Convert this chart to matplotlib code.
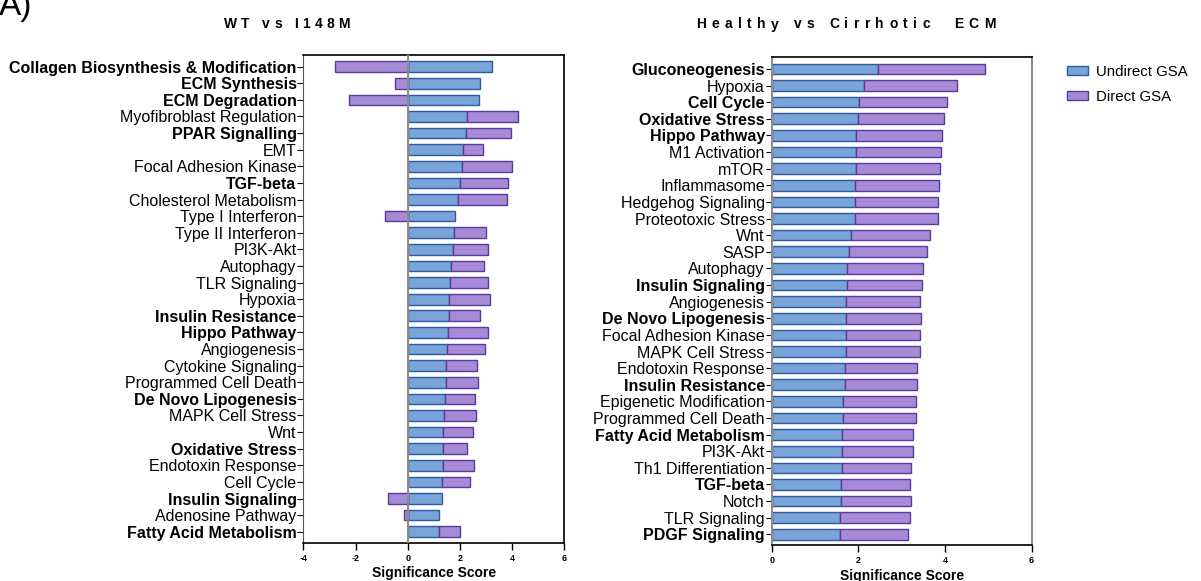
import matplotlib
matplotlib.use("Agg")
import matplotlib.pyplot as plt
from matplotlib.patches import Patch
from matplotlib import font_manager
from matplotlib.ft2font import FT2Font

plt.rcParams['font.family'] = ['Liberation Sans', 'DejaVu Sans']

# WT vs I148M
wt_terms = [
    "Collagen Biosynthesis & Modification", "ECM Synthesis", "ECM Degradation",
    "Myofibroblast Regulation", "PPAR Signalling", "EMT", "Focal Adhesion Kinase",
    "TGF-beta", "Cholesterol Metabolism", "Type I Interferon", "Type II Interferon",
    "PI3K-Akt", "Autophagy", "TLR Signaling", "Hypoxia", "Insulin Resistance",
    "Hippo Pathway", "Angiogenesis", "Cytokine Signaling", "Programmed Cell Death",
    "De Novo Lipogenesis", "MAPK Cell Stress", "Wnt", "Oxidative Stress",
    "Endotoxin Response", "Cell Cycle", "Insulin Signaling", "Adenosine Pathway",
    "Fatty Acid Metabolism",
]
wt_undirect = [3.22, 2.79, 2.75, 2.29, 2.23, 2.14, 2.10, 2.01, 1.93, 1.82, 1.79,
               1.75, 1.66, 1.63, 1.60, 1.60, 1.56, 1.52, 1.48, 1.48, 1.43, 1.41,
               1.36, 1.34, 1.34, 1.31, 1.31, 1.22, 1.19]
wt_direct = [-2.78, -0.47, -2.24, 1.93, 1.72, 0.76, 1.92, 1.85, 1.88, -0.86, 1.23,
             1.35, 1.28, 1.44, 1.55, 1.19, 1.51, 1.44, 1.17, 1.21, 1.14, 1.20,
             1.14, 0.92, 1.19, 1.10, -0.77, -0.13, 0.81]
wt_bold = {"Collagen Biosynthesis & Modification", "ECM Synthesis", "ECM Degradation",
           "PPAR Signalling", "TGF-beta", "Insulin Resistance", "Hippo Pathway",
           "De Novo Lipogenesis", "Oxidative Stress", "Insulin Signaling",
           "Fatty Acid Metabolism"}

# Healthy vs Cirrhotic ECM
ecm_terms = [
    "Gluconeogenesis", "Hypoxia", "Cell Cycle", "Oxidative Stress", "Hippo Pathway",
    "M1 Activation", "mTOR", "Inflammasome", "Hedgehog Signaling", "Proteotoxic Stress",
    "Wnt", "SASP", "Autophagy", "Insulin Signaling", "Angiogenesis",
    "De Novo Lipogenesis", "Focal Adhesion Kinase", "MAPK Cell Stress",
    "Endotoxin Response", "Insulin Resistance", "Epigenetic Modification",
    "Programmed Cell Death", "Fatty Acid Metabolism", "PI3K-Akt", "Th1 Differentiation",
    "TGF-beta", "Notch", "TLR Signaling", "PDGF Signaling",
]
ecm_undirect = [2.46, 2.14, 2.02, 1.98, 1.95, 1.94, 1.94, 1.92, 1.92, 1.92, 1.82,
                1.79, 1.73, 1.73, 1.72, 1.71, 1.71, 1.71, 1.68, 1.68, 1.65, 1.65,
                1.63, 1.63, 1.61, 1.59, 1.59, 1.58, 1.57]
ecm_direct = [2.47, 2.14, 2.02, 1.99, 1.97, 1.96, 1.95, 1.93, 1.92, 1.92, 1.83,
              1.80, 1.75, 1.73, 1.71, 1.73, 1.71, 1.71, 1.67, 1.67, 1.67, 1.67,
              1.64, 1.64, 1.61, 1.61, 1.62, 1.60, 1.58]
ecm_bold = {"Gluconeogenesis", "Cell Cycle", "Oxidative Stress", "Hippo Pathway",
            "Insulin Signaling", "De Novo Lipogenesis", "Insulin Resistance",
            "Fatty Acid Metabolism", "TGF-beta", "PDGF Signaling"}

BLUE, BLUE_EDGE = "#7aa3d7", "#2d5b9b"
PURPLE, PURPLE_EDGE = "#a68ad5", "#5a3a9b"
GRAY = "#8c8c8c"
H = 0.64
DPI = 100
W_PX, H_PX = 1201, 581

fig = plt.figure(figsize=(W_PX / DPI, H_PX / DPI), dpi=DPI)
ax1 = fig.add_axes([0.2527, 0.0659, 0.2169, 0.8394])
ax2 = fig.add_axes([0.6426, 0.0614, 0.2164, 0.8400])


def draw(ax, terms, und, drc, bold, xlim, xticks):
    y = list(range(len(terms)))
    ax.barh(y, und, height=H, color=BLUE, edgecolor=BLUE_EDGE, linewidth=1.0, zorder=2)
    lefts = [u if d > 0 else 0 for u, d in zip(und, drc)]
    ax.barh(y, drc, left=lefts, height=H, color=PURPLE, edgecolor=PURPLE_EDGE,
            linewidth=1.0, zorder=2)
    ax.set_xlim(*xlim)
    ax.set_ylim(len(terms) - 1 + 0.66, -0.70)
    ax.set_yticks(y)
    ax.set_yticklabels(terms, fontsize=11.5)
    for lab, t in zip(ax.get_yticklabels(), terms):
        if t in bold:
            lab.set_fontweight("bold")
    ax.set_xticks(xticks)
    ax.set_xticklabels([str(v) for v in xticks], fontsize=6.5, fontweight="bold")
    ax.tick_params(axis="y", length=4, width=0.8, pad=1)
    ax.tick_params(axis="x", length=5, width=1.0, pad=3)
    ax.set_xlabel("Significance Score", fontsize=10, fontweight="bold", labelpad=2.5)
    for s in ("top", "bottom"):
        ax.spines[s].set_color("black")
        ax.spines[s].set_linewidth(1.2)


draw(ax1, wt_terms, wt_undirect, wt_direct, wt_bold, (-4, 6), [-4, -2, 0, 2, 4, 6])
ax1.axvline(0, color=GRAY, linewidth=1.5, zorder=3)
ax1.spines["left"].set_color("#555555")
ax1.spines["right"].set_color("black")
ax1.spines["right"].set_linewidth(1.2)

draw(ax2, ecm_terms, ecm_undirect, ecm_direct, ecm_bold, (0, 6), [0, 2, 4, 6])
ax2.spines["left"].set_color(GRAY)
ax2.spines["left"].set_linewidth(1.5)
ax2.spines["right"].set_color(GRAY)
ax2.spines["right"].set_linewidth(1.5)


def tracked_title(x_center_px, baseline_px, s, size, tracking_px):
    """Draw a bold title with extra letter spacing, centred on x_center_px."""
    prop = font_manager.FontProperties(family="Liberation Sans", weight="bold")
    font = FT2Font(font_manager.findfont(prop))
    font.set_size(size, DPI)
    adv = [font.load_char(ord(c)).linearHoriAdvance / 65536.0 for c in s]
    total = sum(adv) + tracking_px * (len(s) - 1)
    x = x_center_px - total / 2.0
    for c, a in zip(s, adv):
        if c != " ":
            fig.text(x / W_PX, 1 - baseline_px / H_PX, c, ha="left", va="baseline",
                     fontsize=size, fontweight="bold")
        x += a + tracking_px


tracked_title(287, 28.5, "WT vs I148M", 10, 4.3)
tracked_title(846, 28.5, "Healthy vs Cirrhotic  ECM", 10, 5.4)

fig.text(-0.001, 1 - 15 / H_PX, "A)", ha="left", va="baseline", fontsize=24)

handles = [Patch(facecolor=BLUE, edgecolor=BLUE_EDGE, linewidth=1.0),
           Patch(facecolor=PURPLE, edgecolor=PURPLE_EDGE, linewidth=1.0)]
fig.legend(handles, ["Undirect GSA", "Direct GSA"], loc="upper left",
           bbox_to_anchor=(0.877, 0.912), frameon=False, fontsize=10.8,
           handlelength=1.4, handleheight=0.55, labelspacing=0.75, handletextpad=0.55)

fig.savefig("out.png", dpi=DPI)
